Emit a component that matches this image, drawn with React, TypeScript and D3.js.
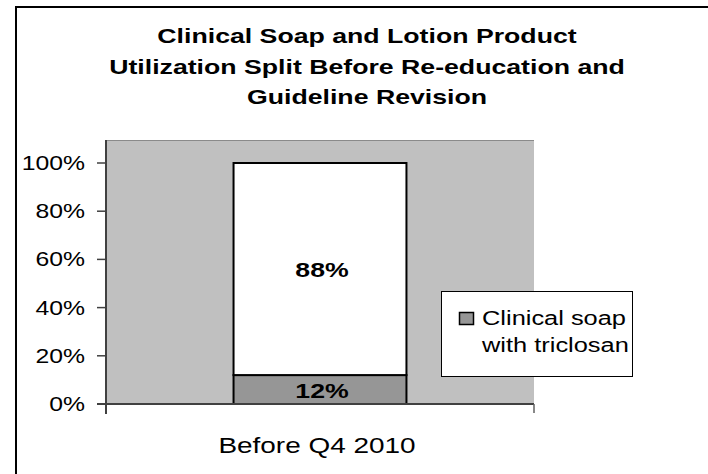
import React from "react";
import * as d3 from "d3";

const titleLines = [
  "Clinical Soap and Lotion Product",
  "Utilization Split Before Re-education and",
  "Guideline Revision",
];
const categories = ["Before Q4 2010"];
const seriesNames = ["Clinical soap with triclosan", "Other"];
const triclosanValues = [0.12];
const otherValues = [0.88];
const yTicks = [0, 0.2, 0.4, 0.6, 0.8, 1];
const legendLines = ["Clinical soap", "with triclosan"];

const W = 708;
const H = 474;
const SX = 1.27;
const FONT = "'Liberation Sans', Arial, sans-serif";

function STxt(props: {
  x: number;
  y: number;
  size: number;
  anchor?: string;
  bold?: boolean;
  children: React.ReactNode;
}) {
  const { x, y, size, anchor = "start", bold = false, children } = props;
  return (
    <text
      transform={`translate(${x},${y}) scale(${SX},1)`}
      fontFamily={FONT}
      fontSize={size}
      fontWeight={bold ? "bold" : "normal"}
      textAnchor={anchor}
      fill="#000"
    >
      {children}
    </text>
  );
}

export default function App() {
  const plot = { left: 106, right: 534, top: 140, bottom: 404 };
  const y = d3.scaleLinear().domain([0, 1]).range([404, 163]);
  const x = d3
    .scaleBand<string>()
    .domain(categories)
    .range([plot.left, plot.right])
    .paddingInner(0.4245)
    .paddingOuter(0.4245);
  const fmt = d3.format(".0%");

  const stacked = categories.map((c, i) => {
    const a = triclosanValues[i];
    const b = otherValues[i];
    return {
      c,
      segs: [
        { name: seriesNames[0], y0: 0, y1: a, v: a, fill: "#969696" },
        { name: seriesNames[1], y0: a, y1: a + b, v: b, fill: "#ffffff" },
      ],
    };
  });

  return (
    <svg
      width={W}
      height={H}
      style={{ position: "absolute", left: 0, top: 0, background: "#fff" }}
    >
      <rect x={0} y={0} width={W} height={H} fill="#fff" />
      {/* outer frame */}
      <line x1={16} y1={7} x2={W} y2={7} stroke="#000" strokeWidth={2} />
      <line x1={16} y1={6} x2={16} y2={H} stroke="#000" strokeWidth={2} />

      {/* title */}
      {titleLines.map((t, i) => (
        <STxt key={i} x={367} y={43 + i * 30.5} size={21} anchor="middle" bold>
          {t}
        </STxt>
      ))}

      {/* plot area */}
      <rect
        x={plot.left}
        y={plot.top}
        width={plot.right - plot.left}
        height={plot.bottom - plot.top}
        fill="#c0c0c0"
      />
      <line
        x1={plot.left}
        y1={plot.top + 0.5}
        x2={plot.right}
        y2={plot.top + 0.5}
        stroke="#8a8a8a"
        strokeWidth={1}
      />

      {/* bars */}
      {stacked.map((d) =>
        d.segs.map((s, j) => (
          <rect
            key={d.c + j}
            x={x(d.c)!}
            y={y(s.y1)}
            width={x.bandwidth()}
            height={y(s.y0) - y(s.y1)}
            fill={s.fill}
            stroke="#000"
            strokeWidth={2}
          />
        ))
      )}
      {stacked.map((d) =>
        d.segs.map((s, j) => (
          <STxt
            key={"l" + d.c + j}
            x={x(d.c)! + x.bandwidth() / 2 + 2}
            y={(y(s.y0) + y(s.y1)) / 2 + 8}
            size={21}
            anchor="middle"
            bold
          >
            {fmt(s.v)}
          </STxt>
        ))
      )}

      {/* y axis */}
      <line x1={plot.left} y1={plot.top} x2={plot.left} y2={414} stroke="#404040" strokeWidth={2} />
      {yTicks.map((t) => (
        <g key={t}>
          <line x1={97} y1={y(t)} x2={plot.left} y2={y(t)} stroke="#404040" strokeWidth={1.5} />
          <STxt x={85} y={y(t) + 7} size={19.5} anchor="end">
            {fmt(t)}
          </STxt>
        </g>
      ))}

      {/* x axis */}
      <line x1={97} y1={plot.bottom} x2={plot.right} y2={plot.bottom} stroke="#404040" strokeWidth={2} />
      <line x1={plot.right} y1={plot.bottom} x2={plot.right} y2={413} stroke="#606060" strokeWidth={1.5} />
      {categories.map((c) => (
        <STxt key={c} x={x(c)! + x.bandwidth() / 2 - 3} y={453} size={22} anchor="middle">
          {c}
        </STxt>
      ))}

      {/* legend */}
      <rect x={441.5} y={291.5} width={191} height={85} fill="#fff" stroke="#000" strokeWidth={1} />
      <rect x={459.5} y={312.5} width={14} height={12} fill="#969696" stroke="#000" strokeWidth={1.5} />
      {legendLines.map((l, i) => (
        <STxt key={i} x={482} y={325 + i * 27} size={20}>
          {l}
        </STxt>
      ))}
    </svg>
  );
}
